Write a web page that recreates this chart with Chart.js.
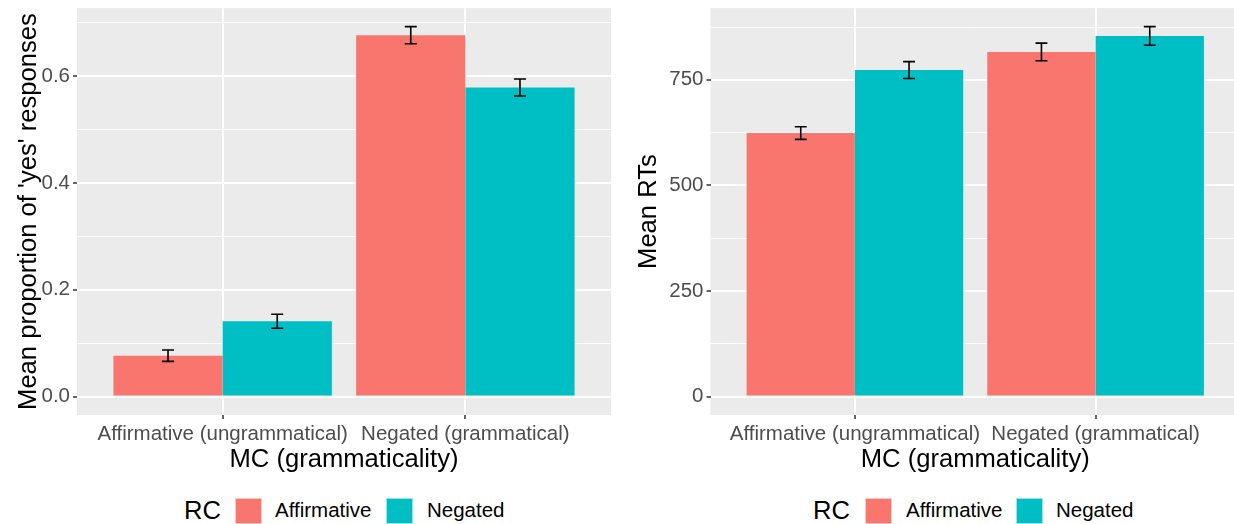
<!DOCTYPE html>
<html>
<head>
<meta charset="utf-8">
<script src="https://cdn.jsdelivr.net/npm/chart.js@4.4.1/dist/chart.umd.min.js"></script>
<style>
  html, body { margin: 0; padding: 0; background: #fff; }
  body { position: relative; width: 1234px; height: 524px; overflow: hidden; font-family: "Liberation Sans", Arial, sans-serif; }
  #leftBox { position: absolute; left: 0; top: 0; width: 617px; height: 480px; }
  #rightBox { position: absolute; left: 620px; top: 0; width: 620px; height: 480px; }
  .lg { position: absolute; top: 497px; height: 26px; line-height: 26px; font-size: 20.5px; color: #000; white-space: nowrap; }
  .lg.title { font-size: 25.6px; top: 496px; line-height: 28px; }
  .key { position: absolute; top: 498px; width: 25px; height: 24px; border: 1px solid rgba(255,255,255,0.6); }
</style>
</head>
<body>
<div id="leftBox"><canvas id="yesChart"></canvas></div>
<div id="rightBox"><canvas id="rtChart"></canvas></div>

<span class="lg title" style="left:184px">RC</span>
<span class="key" style="left:235px;background:#F8766D"></span>
<span class="lg" style="left:275px">Affirmative</span>
<span class="key" style="left:386px;background:#00BFC4"></span>
<span class="lg" style="left:427px">Negated</span>

<span class="lg title" style="left:813px">RC</span>
<span class="key" style="left:865px;background:#F8766D"></span>
<span class="lg" style="left:906px">Affirmative</span>
<span class="key" style="left:1016px;background:#00BFC4"></span>
<span class="lg" style="left:1056px">Negated</span>

<script>
const categories = ['Affirmative (ungrammatical)', 'Negated (grammatical)'];
const groups = ['Affirmative', 'Negated'];

// mean proportion of 'yes' responses, with standard errors
const yesAffirmative = [0.0765, 0.677];
const yesNegated = [0.141, 0.579];
const yesAffirmativeSE = [0.0107, 0.016];
const yesNegatedSE = [0.013, 0.016];
const yesTicks = [0, 0.2, 0.4, 0.6];

// mean RTs, with standard errors
const rtAffirmative = [624, 816];
const rtNegated = [773, 854];
const rtAffirmativeSE = [15, 21];
const rtNegatedSE = [20, 22];
const rtTicks = [0, 250, 500, 750];

const colors = ['#F8766D', '#00BFC4'];
const fontFamily = '"Liberation Sans", Arial, sans-serif';

const panelBg = {
    id: 'panelBg',
    beforeDraw(chart) {
        const a = chart.chartArea;
        chart.ctx.save();
        chart.ctx.fillStyle = '#EBEBEB';
        chart.ctx.fillRect(a.left, a.top, a.right - a.left, a.bottom - a.top);
        chart.ctx.restore();
    }
};

const errorBars = {
    id: 'errorBars',
    afterDatasetsDraw(chart) {
        const ctx = chart.ctx;
        const y = chart.scales.y;
        ctx.save();
        ctx.strokeStyle = '#000';
        ctx.lineWidth = 1.6;
        chart.data.datasets.forEach((ds, d) => {
            chart.getDatasetMeta(d).data.forEach((bar, i) => {
                const v = ds.data[i].y, e = ds.errors[i];
                const top = y.getPixelForValue(v + e);
                const bot = y.getPixelForValue(v - e);
                const half = bar.width * 0.055;
                ctx.beginPath();
                ctx.moveTo(bar.x, top); ctx.lineTo(bar.x, bot);
                ctx.moveTo(bar.x - half, top); ctx.lineTo(bar.x + half, top);
                ctx.moveTo(bar.x - half, bot); ctx.lineTo(bar.x + half, bot);
                ctx.stroke();
            });
        });
        ctx.restore();
    }
};

function makeChart(el, series, errs, ticks, yTitle, yWidth, rightPad, fmt) {
    // ggplot-style 5% expansion around the data range
    let top = 0;
    series.forEach((s, k) => s.forEach((v, i) => { top = Math.max(top, v + errs[k][i]); }));
    const pad = top * 0.05;
    const step = ticks[1] - ticks[0];
    const isMajor = v => ticks.some(t => Math.abs(t - v) < step * 1e-6);

    return new Chart(document.getElementById(el), {
        type: 'bar',
        data: {
            datasets: groups.map((g, k) => ({
                label: g,
                data: series[k].map((v, i) => ({ x: i + 1, y: v })),
                errors: errs[k],
                backgroundColor: colors[k],
                borderWidth: 0,
                categoryPercentage: 0.9,
                barPercentage: 1.0
            }))
        },
        options: {
            responsive: true,
            maintainAspectRatio: false,
            animation: false,
            layout: { padding: { top: 7, right: rightPad, left: 0, bottom: 0 } },
            plugins: { legend: { display: false }, tooltip: { enabled: false } },
            scales: {
                x: {
                    type: 'linear',
                    min: 0.4,
                    max: 2.6,
                    offset: false,
                    afterBuildTicks: s => { s.ticks = categories.map((c, i) => ({ value: i + 1 })); },
                    afterFit: s => { s.height = 65; },
                    ticks: {
                        autoSkip: false, maxRotation: 0, minRotation: 0, padding: 3,
                        color: '#4D4D4D', font: { family: fontFamily, size: 20.5 },
                        callback: v => categories[Math.round(v) - 1]
                    },
                    grid: { offset: false, color: '#FFFFFF', lineWidth: 2, tickLength: 4, tickColor: '#333333', tickWidth: 1.5 },
                    border: { display: false },
                    title: {
                        display: true, text: 'MC (grammaticality)', color: '#000',
                        font: { family: fontFamily, size: 25.6 }, padding: { top: 0, bottom: 5 }
                    }
                },
                y: {
                    min: -pad,
                    max: top + pad,
                    afterFit: s => { s.width = yWidth; },
                    ticks: {
                        stepSize: step / 2, includeBounds: false, padding: 3,
                        color: '#4D4D4D', font: { family: fontFamily, size: 20.5, lineHeight: 0.5 },
                        callback: v => isMajor(v) ? fmt(v) : ''
                    },
                    grid: {
                        color: '#FFFFFF',
                        lineWidth: c => isMajor(c.tick.value) ? 2 : 1,
                        tickLength: 4,
                        tickColor: c => isMajor(c.tick.value) ? '#333333' : 'rgba(0,0,0,0)',
                        tickWidth: 1.5
                    },
                    border: { display: false },
                    title: {
                        display: true, text: yTitle, color: '#000',
                        font: { family: fontFamily, size: 25.6 }, padding: { top: 14, bottom: 0 }
                    }
                }
            }
        },
        plugins: [panelBg, errorBars]
    });
}

makeChart('yesChart', [yesAffirmative, yesNegated], [yesAffirmativeSE, yesNegatedSE], yesTicks,
    "Mean proportion of 'yes' responses", 77, 6, v => v.toFixed(1));
makeChart('rtChart', [rtAffirmative, rtNegated], [rtAffirmativeSE, rtNegatedSE], rtTicks,
    'Mean RTs', 90.5, 0, v => String(Math.round(v)));
</script>
</body>
</html>
